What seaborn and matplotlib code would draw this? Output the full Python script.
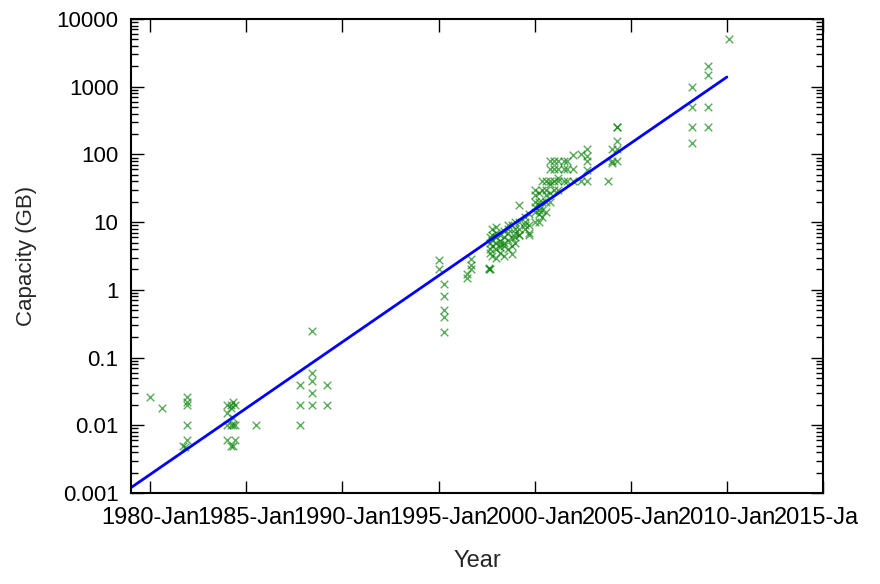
import numpy as np
import pandas as pd
import matplotlib
matplotlib.use("Agg")
import matplotlib.pyplot as plt
import matplotlib.ticker as mticker
from matplotlib.transforms import Bbox
import seaborn as sns

# Hard drive capacities (decimal year, GB)
years_1980s = [1980.0, 1980.6,
               1981.9, 1981.9, 1981.9, 1981.9, 1981.9, 1981.7, 1981.8,
               1984.0, 1984.0, 1984.0, 1984.0,
               1984.2, 1984.2, 1984.2, 1984.2,
               1984.3, 1984.3, 1984.3, 1984.3,
               1984.4, 1984.4, 1984.4,
               1985.5,
               1987.8, 1987.8, 1987.8,
               1988.4, 1988.4, 1988.4, 1988.4, 1988.4,
               1989.2, 1989.2]
capacity_1980s = [0.026, 0.018,
                  0.026, 0.022, 0.02, 0.01, 0.006, 0.005, 0.0047,
                  0.02, 0.015, 0.01, 0.006,
                  0.02, 0.018, 0.01, 0.005,
                  0.022, 0.013, 0.01, 0.005,
                  0.02, 0.01, 0.006,
                  0.01,
                  0.04, 0.02, 0.01,
                  0.25, 0.06, 0.045, 0.03, 0.02,
                  0.04, 0.02]

years_1990s = [1995.0, 1995.0,
               1995.3, 1995.3, 1995.3, 1995.3, 1995.3,
               1996.5, 1996.5, 1996.7, 1996.7, 1996.7,
               1997.6, 1997.6,
               1997.7, 1997.7, 1997.7, 1997.7, 1997.7,
               1997.8, 1997.8, 1997.8, 1997.8, 1997.8,
               1998.0, 1998.0, 1998.0, 1998.0, 1998.0, 1998.0,
               1998.2, 1998.2, 1998.2, 1998.2, 1998.2,
               1998.4, 1998.4, 1998.4, 1998.4, 1998.4,
               1998.6, 1998.6, 1998.6, 1998.6, 1998.6,
               1998.8, 1998.8, 1998.8, 1998.8,
               1999.0, 1999.0, 1999.0, 1999.0, 1999.0,
               1999.2, 1999.2, 1999.2, 1999.2, 1999.2,
               1999.5, 1999.5, 1999.5, 1999.5,
               1999.7, 1999.7, 1999.7, 1999.7]
capacity_1990s = [2.8, 2.0,
                  1.2, 0.8, 0.5, 0.4, 0.24,
                  1.5, 1.7, 2.3, 2.9, 2.0,
                  2.0, 2.1,
                  2.0, 3.5, 4.0, 5.0, 6.0,
                  3.2, 4.5, 5.5, 6.4, 8.0,
                  3.0, 4.0, 5.0, 6.0, 7.0, 8.5,
                  3.5, 4.3, 5.2, 6.5, 4.8,
                  3.2, 4.5, 5.0, 6.0, 7.5,
                  4.0, 5.5, 6.8, 8.0, 9.0,
                  3.4, 4.5, 5.8, 9.1,
                  5.0, 6.0, 7.0, 8.0, 10.0,
                  18.0, 10.0, 8.0, 6.5, 6.4,
                  8.0, 9.0, 10.0, 12.0,
                  6.5, 7.0, 9.0, 13.0]

years_2000s = [2000.0, 2000.0, 2000.0, 2000.0, 2000.0, 2000.0,
               2000.2, 2000.2, 2000.2, 2000.2, 2000.2, 2000.2,
               2000.4, 2000.4, 2000.4, 2000.4, 2000.4,
               2000.6, 2000.6, 2000.6, 2000.6, 2000.6,
               2000.8, 2000.8, 2000.8, 2000.8, 2000.8, 2000.8,
               2001.0, 2001.0, 2001.0, 2001.0,
               2001.2, 2001.2, 2001.2, 2001.2, 2001.2,
               2001.5, 2001.5, 2001.5,
               2001.7, 2001.7, 2001.7,
               2002.0, 2002.0, 2002.0,
               2002.4, 2002.4,
               2002.7, 2002.7, 2002.7, 2002.7, 2002.7,
               2003.8,
               2004.0, 2004.0, 2004.0,
               2004.3, 2004.3, 2004.3, 2004.3, 2004.3,
               2008.2, 2008.2, 2008.2, 2008.2,
               2009.0, 2009.0, 2009.0, 2009.0,
               2010.1]
capacity_2000s = [10.0, 14.0, 17.0, 20.0, 25.0, 30.0,
                  10.0, 13.0, 15.0, 18.0, 20.0, 27.0,
                  12.0, 15.0, 20.0, 30.0, 40.0,
                  14.0, 20.0, 25.0, 30.0, 40.0,
                  20.0, 27.0, 37.0, 41.0, 60.0, 80.0,
                  30.0, 40.0, 60.0, 80.0,
                  30.0, 40.0, 45.0, 60.0, 80.0,
                  40.0, 60.0, 80.0,
                  40.0, 60.0, 81.0,
                  40.0, 98.0, 60.0,
                  40.0, 100.0,
                  120.0, 96.0, 81.0, 59.0, 40.0,
                  40.0,
                  120.0, 80.0, 74.0,
                  250.0, 250.0, 160.0, 120.0, 80.0,
                  1000.0, 500.0, 250.0, 150.0,
                  2000.0, 1500.0, 500.0, 250.0,
                  5000.0]

# exponential fit drawn in the chart (end points)
fit_years = [1979.0, 2010.0]
fit_capacity = [0.0012, 1390.0]

y_ticks = [0.001, 0.01, 0.1, 1, 10, 100, 1000, 10000]
x_ticks = [1980, 1985, 1990, 1995, 2000, 2005, 2010, 2015]

drives = pd.DataFrame({
    "Year": years_1980s + years_1990s + years_2000s,
    "Capacity": capacity_1980s + capacity_1990s + capacity_2000s,
})
fit = pd.DataFrame({"Year": fit_years, "Capacity": fit_capacity})

sns.set_style("ticks")
plt.rcParams["font.family"] = ["Liberation Sans", "DejaVu Sans"]

fig = plt.figure(figsize=(8.8, 5.84), dpi=100)
ax = fig.add_axes([131 / 880, 1 - 493 / 584, 692 / 880, 474 / 584])

sns.scatterplot(data=drives, x="Year", y="Capacity", ax=ax, marker="x",
                color="#008000", s=30, linewidth=1.0, alpha=0.65, legend=False)
sns.lineplot(data=fit, x="Year", y="Capacity", ax=ax, color="#0000ff",
             linewidth=2.0, legend=False)

ax.set_yscale("log")
ax.set_xlim(1979, 2015)
ax.set_ylim(0.001, 10000)
ax.set_xticks(x_ticks)
ax.xaxis.set_major_formatter(mticker.FuncFormatter(lambda v, p: f"{v:.0f}-Jan"))
ax.set_yticks(y_ticks)
ax.yaxis.set_major_formatter(mticker.FuncFormatter(lambda v, p: f"{v:g}"))
ax.yaxis.set_minor_locator(mticker.LogLocator(base=10, subs=np.arange(2, 10)))
ax.yaxis.set_minor_formatter(mticker.NullFormatter())

ax.tick_params(which="both", direction="in", top=True, right=True,
               labelsize=16, colors="black", width=1.0)
ax.tick_params(which="major", length=9)
ax.tick_params(which="minor", length=5)
ax.tick_params(axis="x", which="major", pad=10, labelsize=17)
ax.tick_params(axis="y", which="major", pad=9)
for s in ax.spines.values():
    s.set_linewidth(1.5)
    s.set_color("black")

ax.set_xlabel("Year", fontsize=17, labelpad=15)
ax.set_ylabel("Capacity (GB)", fontsize=16, labelpad=14)

# the right-most tick label runs off the canvas in the reference
fig.canvas.draw()
last = ax.get_xticklabels()[-1]
last.set_clip_box(Bbox.from_extents(0, 0, 858, 584))
last.set_clip_on(True)

fig.savefig("out.png", dpi=100)
